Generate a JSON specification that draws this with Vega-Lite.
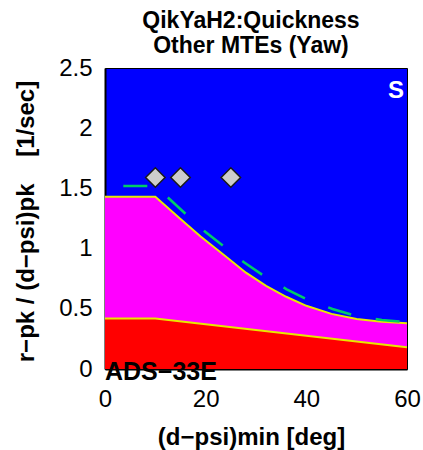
{
  "$schema": "https://vega.github.io/schema/vega-lite/v6.json",
  "autosize": {"type": "none"},
  "width": 302,
  "height": 301,
  "padding": {"left": 105, "top": 68, "right": 16, "bottom": 81},
  "background": "white",
  "config": {
    "font": "Liberation Sans",
    "view": {"fill": "#0000ff", "stroke": "black", "strokeWidth": 1},
    "axis": {"grid": false, "ticks": false, "domainColor": "black", "domainWidth": 2, "zindex": 1, "labelFlush": false,
             "labelFont": "Liberation Sans", "labelFontSize": 24, "labelColor": "black",
             "titleFont": "Liberation Sans", "titleFontSize": 24, "titleFontWeight": "bold", "titleColor": "black"}
  },
  "title": {
    "text": ["QikYaH2:Quickness", "Other MTEs (Yaw)"],
    "font": "Liberation Sans", "fontSize": 23, "fontWeight": "bold", "lineHeight": 25,
    "anchor": "middle", "dx": -5, "offset": -2, "color": "black"
  },
  "datasets": {
    "level12": [
      {"x": 0, "y": 1.43}, {"x": 10, "y": 1.43}, {"x": 15, "y": 1.245}, {"x": 19, "y": 1.1},
      {"x": 24, "y": 0.935}, {"x": 28, "y": 0.8}, {"x": 32, "y": 0.69}, {"x": 36, "y": 0.6},
      {"x": 40, "y": 0.525}, {"x": 45, "y": 0.458}, {"x": 50, "y": 0.415}, {"x": 55, "y": 0.392},
      {"x": 60, "y": 0.38}
    ],
    "level23": [
      {"x": 0, "y": 0.42}, {"x": 10, "y": 0.42}, {"x": 60, "y": 0.18}
    ],
    "alt": [
      {"x": 0, "y": 1.52}, {"x": 10, "y": 1.52}, {"x": 12.6, "y": 1.42}, {"x": 16.1, "y": 1.285},
      {"x": 19.9, "y": 1.14}, {"x": 23.7, "y": 1.016}, {"x": 27.6, "y": 0.886}, {"x": 31.8, "y": 0.767},
      {"x": 36.1, "y": 0.662}, {"x": 40.4, "y": 0.573}, {"x": 45.2, "y": 0.498}, {"x": 50, "y": 0.44},
      {"x": 55, "y": 0.407}, {"x": 60, "y": 0.388}
    ],
    "runs": [
      {"x": 10, "y": 1.59}, {"x": 15, "y": 1.59}, {"x": 25, "y": 1.59}
    ]
  },
  "layer": [
    {
      "data": {"name": "level12"},
      "mark": {"type": "area", "color": "#ff00ff", "clip": true},
      "encoding": {
        "x": {"field": "x", "type": "quantitative", "scale": {"domain": [0, 60], "nice": false},
              "axis": {"values": [0, 20, 40, 60], "labelPadding": 18, "title": "(d\u2212psi)min [deg]",
                       "titleX": 146, "titleY": 75, "titleBaseline": "alphabetic"}},
        "y": {"field": "y", "type": "quantitative", "scale": {"domain": [0, 2.5], "nice": false},
              "axis": {"values": [0, 0.5, 1, 1.5, 2, 2.5], "format": "~g", "labelPadding": 13,
                       "title": "r\u2212pk / (d\u2212psi)pk\u00a0\u00a0\u00a0\u00a0[1/sec]",
                       "titleAngle": -90, "titleX": -79, "titleY": 153, "titleAlign": "center", "titleBaseline": "middle"}}
      }
    },
    {
      "data": {"name": "level23"},
      "mark": {"type": "area", "color": "#ff0000", "clip": true},
      "encoding": {
        "x": {"field": "x", "type": "quantitative"},
        "y": {"field": "y", "type": "quantitative"}
      }
    },
    {
      "data": {"name": "level12"},
      "mark": {"type": "line", "color": "#e8e800", "strokeWidth": 2, "clip": true},
      "encoding": {
        "x": {"field": "x", "type": "quantitative"},
        "y": {"field": "y", "type": "quantitative"}
      }
    },
    {
      "data": {"name": "level23"},
      "mark": {"type": "line", "color": "#e8e800", "strokeWidth": 2, "clip": true},
      "encoding": {
        "x": {"field": "x", "type": "quantitative"},
        "y": {"field": "y", "type": "quantitative"}
      }
    },
    {
      "data": {"name": "alt"},
      "mark": {"type": "line", "color": "#00cc66", "strokeWidth": 2.5, "strokeDash": [24, 25], "strokeDashOffset": 30.7, "clip": true},
      "encoding": {
        "x": {"field": "x", "type": "quantitative"},
        "y": {"field": "y", "type": "quantitative"}
      }
    },
    {
      "data": {"name": "runs"},
      "mark": {"type": "point", "shape": "diamond", "filled": true, "fill": "#cccccc", "stroke": "#1a1a1a", "strokeWidth": 1.5, "size": 380, "opacity": 1},
      "encoding": {
        "x": {"field": "x", "type": "quantitative"},
        "y": {"field": "y", "type": "quantitative"}
      }
    },
    {
      "data": {"values": [{"label": "S"}]},
      "mark": {"type": "text", "font": "Liberation Sans", "fontSize": 24, "fontWeight": "bold", "color": "white", "align": "right", "baseline": "alphabetic", "dx": -3, "dy": 30},
      "encoding": {
        "x": {"datum": 60},
        "y": {"datum": 2.5},
        "text": {"field": "label"}
      }
    },
    {
      "data": {"values": [{"label": "ADS\u221233E"}]},
      "mark": {"type": "text", "font": "Liberation Sans", "fontSize": 25, "fontWeight": "bold", "color": "black", "align": "left", "baseline": "alphabetic", "dx": 0, "dy": 11},
      "encoding": {
        "x": {"datum": 0},
        "y": {"datum": 0},
        "text": {"field": "label"}
      }
    }
  ]
}
